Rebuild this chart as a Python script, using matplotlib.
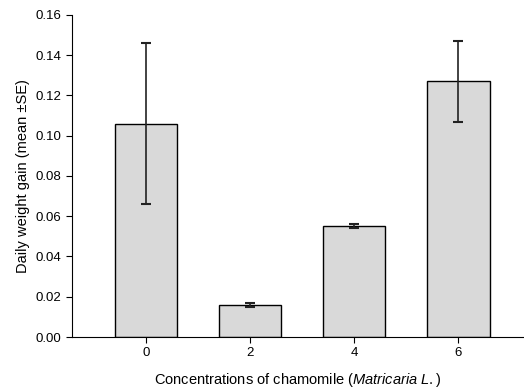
import numpy as np
import matplotlib.pyplot as plt

plt.rcParams['font.family'] = ['Liberation Sans', 'DejaVu Sans']
plt.rcParams['mathtext.fontset'] = 'custom'
plt.rcParams['mathtext.rm'] = 'Liberation Sans'
plt.rcParams['mathtext.it'] = 'Liberation Sans:italic'

concentrations = ['0', '2', '4', '6']
weight_gain = [0.106, 0.016, 0.055, 0.127]
weight_gain_se = [0.040, 0.001, 0.001, 0.020]

fig = plt.figure(figsize=(5.24, 3.91), dpi=100)
ax = fig.add_axes([0.137, 0.138, 0.863, 0.824])

x = np.arange(len(concentrations))
ax.bar(x, weight_gain, width=0.6, color='#d9d9d9', edgecolor='black', linewidth=1.0)
ax.errorbar(x, weight_gain, yerr=weight_gain_se, fmt='none', ecolor='#222222',
            elinewidth=1.2, capsize=3.5, capthick=1.5)

ax.set_xlim(-0.71, 3.63)
ax.set_ylim(0, 0.16)
ax.set_yticks(np.arange(0, 0.161, 0.02))
ax.yaxis.set_major_formatter(plt.FormatStrFormatter('%.2f'))
ax.set_xticks(x)
ax.set_xticklabels(concentrations)

ax.spines['top'].set_visible(False)
ax.spines['right'].set_visible(False)
ax.tick_params(direction='out', length=4, labelsize=9.5)

ax.set_ylabel('Daily weight gain (mean \u00b1SE)', fontsize=10.5, labelpad=4)
ax.set_xlabel('Concentrations of chamomile ($\\it{Matricaria\\ L.)}$', fontsize=10.5, labelpad=8)

plt.savefig('out.png', dpi=100)
